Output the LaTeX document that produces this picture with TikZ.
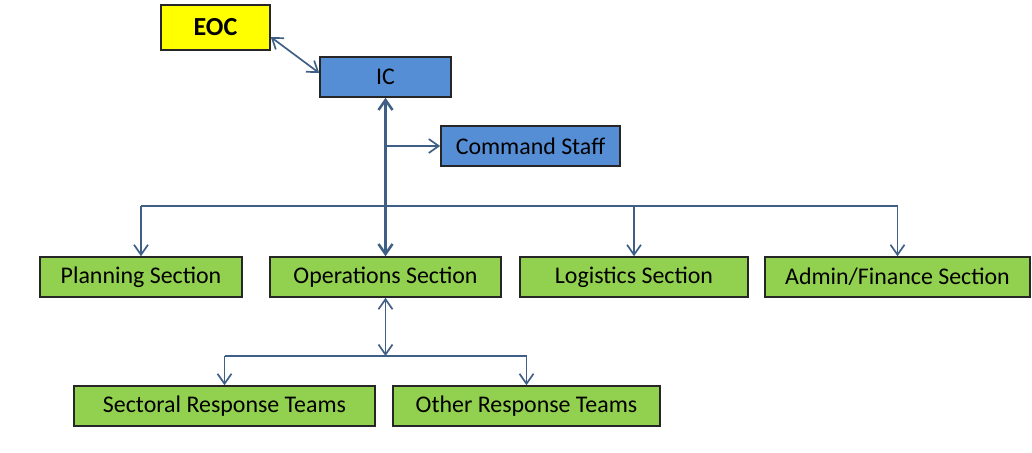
\documentclass[tikz,border=0pt]{standalone}
\usepackage{fontspec}
\setmainfont{Carlito}
\usetikzlibrary{arrows.meta}
\definecolor{eocyellow}{HTML}{FFFF00}
\definecolor{icblue}{HTML}{558ED5}
\definecolor{secgreen}{HTML}{92D050}
\definecolor{linkblue}{HTML}{3F5F86}
\begin{document}
\begin{tikzpicture}[x=0.025cm, y=-0.025cm,
	unit/.style={draw=black!85, line width=1.1pt, minimum height=1cm, inner sep=1pt, font=\fontsize{17}{20}\selectfont},
	section/.style={unit, fill=secgreen},
	staff/.style={unit, fill=icblue},
	link/.style={draw=linkblue, line width=1.2pt, -{Straight Barb[length=2.5mm, width=3.5mm]}},
	trunk/.style={link, line width=1.8pt}]
%			\draw[help lines] (0,0) grid (1032,453);
			\useasboundingbox (0,0) rectangle (1032,453);
			\node[unit, fill=eocyellow, minimum width=2.725cm, minimum height=1.125cm, font=\fontsize{18.5}{21}\selectfont\bfseries] (eoc) at (215.5, 27.5) {EOC};
			\node[staff, minimum width=3.275cm] (ic) at (385.5, 77) {IC};
			\node[staff, minimum width=4.475cm] (cmd) at (530.5, 146) {Command Staff};
			\node[section, minimum width=5.05cm] (plan) at (141, 277) {Planning Section};
			\node[section, minimum width=5.775cm] (ops) at (385.5, 277) {Operations Section};
			\node[section, minimum width=5.7cm] (log) at (634, 277) {Logistics Section};
			\node[section, minimum width=6.625cm] (fin) at (897.5, 277) {Admin/Finance Section};
			\node[section, minimum width=7.525cm] (sect) at (224.5, 406) {Sectoral Response Teams};
			\node[section, minimum width=6.675cm] (other) at (526.5, 406) {Other Response Teams};
			\coordinate (split) at (385.5, 206);
			\coordinate (teams) at (385.5, 356);
			\draw[link, {Straight Barb[length=2.5mm, width=3.5mm]}-{Straight Barb[length=2.5mm, width=3.5mm]}] (eoc.east |- 0, 37) -- (ic.west |- 0, 73);
			\draw[trunk, {Straight Barb[length=2.5mm, width=3.5mm]}-{Straight Barb[length=2.5mm, width=3.5mm]}] (ic.south) -- (ops.north);
			\draw[link] (ic.south |- cmd.west) -- (cmd.west);
			\draw[link, -] (plan.north |- split) -- (fin.north |- split);
			\draw[link] (plan.north |- split) -- (plan.north);
			\draw[link] (log.north |- split) -- (log.north);
			\draw[link] (fin.north |- split) -- (fin.north);
			\draw[link, {Straight Barb[length=2.5mm, width=3.5mm]}-{Straight Barb[length=2.5mm, width=3.5mm]}] (ops.south) -- (teams);
			\draw[link, -] (sect.north |- teams) -- (other.north |- teams);
			\draw[link] (sect.north |- teams) -- (sect.north);
			\draw[link] (other.north |- teams) -- (other.north);
		\end{tikzpicture}
\end{document}
